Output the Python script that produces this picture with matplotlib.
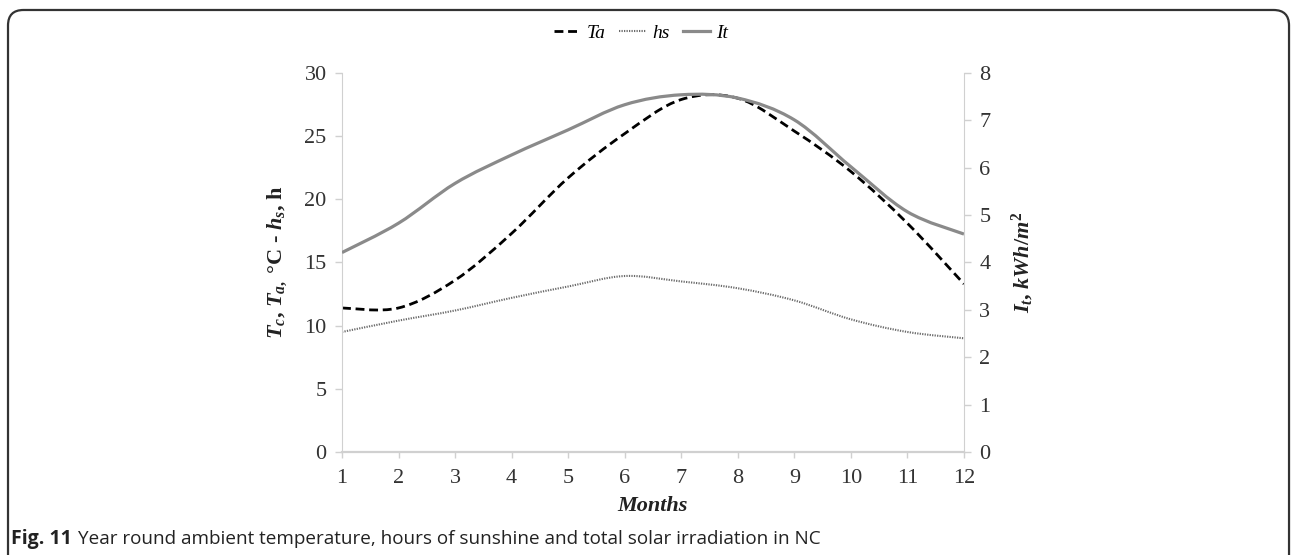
import numpy as np
import matplotlib
matplotlib.use("Agg")
import matplotlib.pyplot as plt
from matplotlib.path import Path
from matplotlib.patches import PathPatch, FancyBboxPatch
from matplotlib.lines import Line2D

# Monthly climate values for NC
months = [1, 2, 3, 4, 5, 6, 7, 8, 9, 10, 11, 12]
ta = [11.4, 11.4, 13.6, 17.3, 21.7, 25.2, 27.9, 28.0, 25.4, 22.2, 18.1, 13.3]    # ambient temp, degC
hs = [9.5, 10.4, 11.2, 12.2, 13.1, 13.93, 13.5, 12.96, 12.0, 10.5, 9.5, 9.0]     # sunshine hours
it = [4.21, 4.83, 5.67, 6.27, 6.8, 7.33, 7.54, 7.47, 7.01, 6.02, 5.07, 4.6]      # irradiation, kWh/m2

left_ticks = [0, 5, 10, 15, 20, 25, 30]
right_ticks = [0, 1, 2, 3, 4, 5, 6, 7, 8]

serif = "Liberation Serif"
axis_grey = "#d0d0d0"
text_col = "#333333"

plt.rcParams["mathtext.fontset"] = "custom"
plt.rcParams["mathtext.it"] = "Liberation Serif:italic:bold"
plt.rcParams["mathtext.rm"] = "Liberation Serif:bold"
plt.rcParams["mathtext.bf"] = "Liberation Serif:bold"


def smooth_path(x, y):
    # smoothed line: cubic bezier segments through each point
    x = np.asarray(x, float)
    y = np.asarray(y, float)
    n = len(x)
    verts = [(x[0], y[0])]
    codes = [Path.MOVETO]
    for i in range(n - 1):
        x0, y0 = (x[i - 1], y[i - 1]) if i > 0 else (x[i], y[i])
        x3, y3 = (x[i + 2], y[i + 2]) if i + 2 < n else (x[i + 1], y[i + 1])
        c1 = (x[i] + (x[i + 1] - x0) / 6, y[i] + (y[i + 1] - y0) / 6)
        c2 = (x[i + 1] - (x3 - x[i]) / 6, y[i + 1] - (y3 - y[i]) / 6)
        verts += [c1, c2, (x[i + 1], y[i + 1])]
        codes += [Path.CURVE4] * 3
    return Path(verts, codes)


ta_style = dict(color="black", lw=2.0, linestyle=(0, (3.2, 1.7)))
hs_style = dict(color="#6a6a6a", lw=1.5, linestyle=(0, (0.6, 0.6)))
it_style = dict(color="#8a8a8a", lw=2.3)

fig = plt.figure(figsize=(12.92, 5.55), dpi=100)
ax = fig.add_axes([0.2647, 0.1856, 0.4814, 0.6829])
ax2 = ax.twinx()

ax.add_patch(PathPatch(smooth_path(months, ta), fill=False, capstyle="butt", **ta_style))
ax.add_patch(PathPatch(smooth_path(months, hs), fill=False, **hs_style))
ax2.add_patch(PathPatch(smooth_path(months, it), fill=False, **it_style))

ax.set_xlim(1, 12)
ax.set_ylim(0, 30)
ax2.set_ylim(0, 8)
ax.set_xticks(months)
ax.set_yticks(left_ticks)
ax2.set_yticks(right_ticks)

for a in (ax, ax2):
    for s in a.spines.values():
        s.set_visible(False)
    a.tick_params(labelsize=16, labelcolor=text_col, color=axis_grey, length=5, width=1, pad=6)
    for lab in a.get_xticklabels() + a.get_yticklabels():
        lab.set_fontfamily(serif)
ax.spines["left"].set_visible(True)
ax.spines["left"].set_color(axis_grey)
ax.spines["bottom"].set_visible(True)
ax.spines["bottom"].set_color(axis_grey)
ax.spines["bottom"].set_linewidth(1.6)
ax2.spines["right"].set_visible(True)
ax2.spines["right"].set_color(axis_grey)
ax.tick_params(axis="x", length=4, pad=8)

ax.set_xlabel("Months", fontfamily=serif, fontsize=16, fontweight="bold",
              fontstyle="italic", color="#222222", labelpad=6)
ax.set_ylabel(r"$T_c$, $T_{a,}$ °C - $h_s$, h", fontfamily=serif, fontsize=16,
              fontweight="bold", color="#222222", labelpad=11)
ax2.set_ylabel(r"$I_t$, $kWh/m^2$", fontfamily=serif, fontsize=16,
               fontweight="bold", color="#222222", labelpad=14)

handles = [Line2D([], [], **ta_style), Line2D([], [], **hs_style), Line2D([], [], **it_style)]
fig.legend(handles, ["Ta", "hs", "It"], loc="center", bbox_to_anchor=(0.496, 0.9405),
           ncol=3, frameon=False, handlelength=1.4, handletextpad=0.3, columnspacing=0.7,
           prop={"family": serif, "style": "italic", "size": 14})

# rounded frame around the figure panel
frame = FancyBboxPatch((0.0062, -0.2), 0.9915, 1.182, boxstyle="round,pad=0,rounding_size=0.012",
                       transform=fig.transFigure, fill=False, ec="#333333", lw=1.6,
                       mutation_aspect=1292 / 555)
fig.patches.append(frame)

fig.text(0.0085, 0.0288, "Fig. 11", fontfamily="Open Sans", fontweight="bold",
         fontsize=14, va="center", color="#222222")
fig.text(0.0605, 0.0288, "Year round ambient temperature, hours of sunshine and total solar irradiation in NC",
         fontfamily="Open Sans", fontsize=13.6, va="center", color="#222222")

fig.savefig("out.png", dpi=100)
